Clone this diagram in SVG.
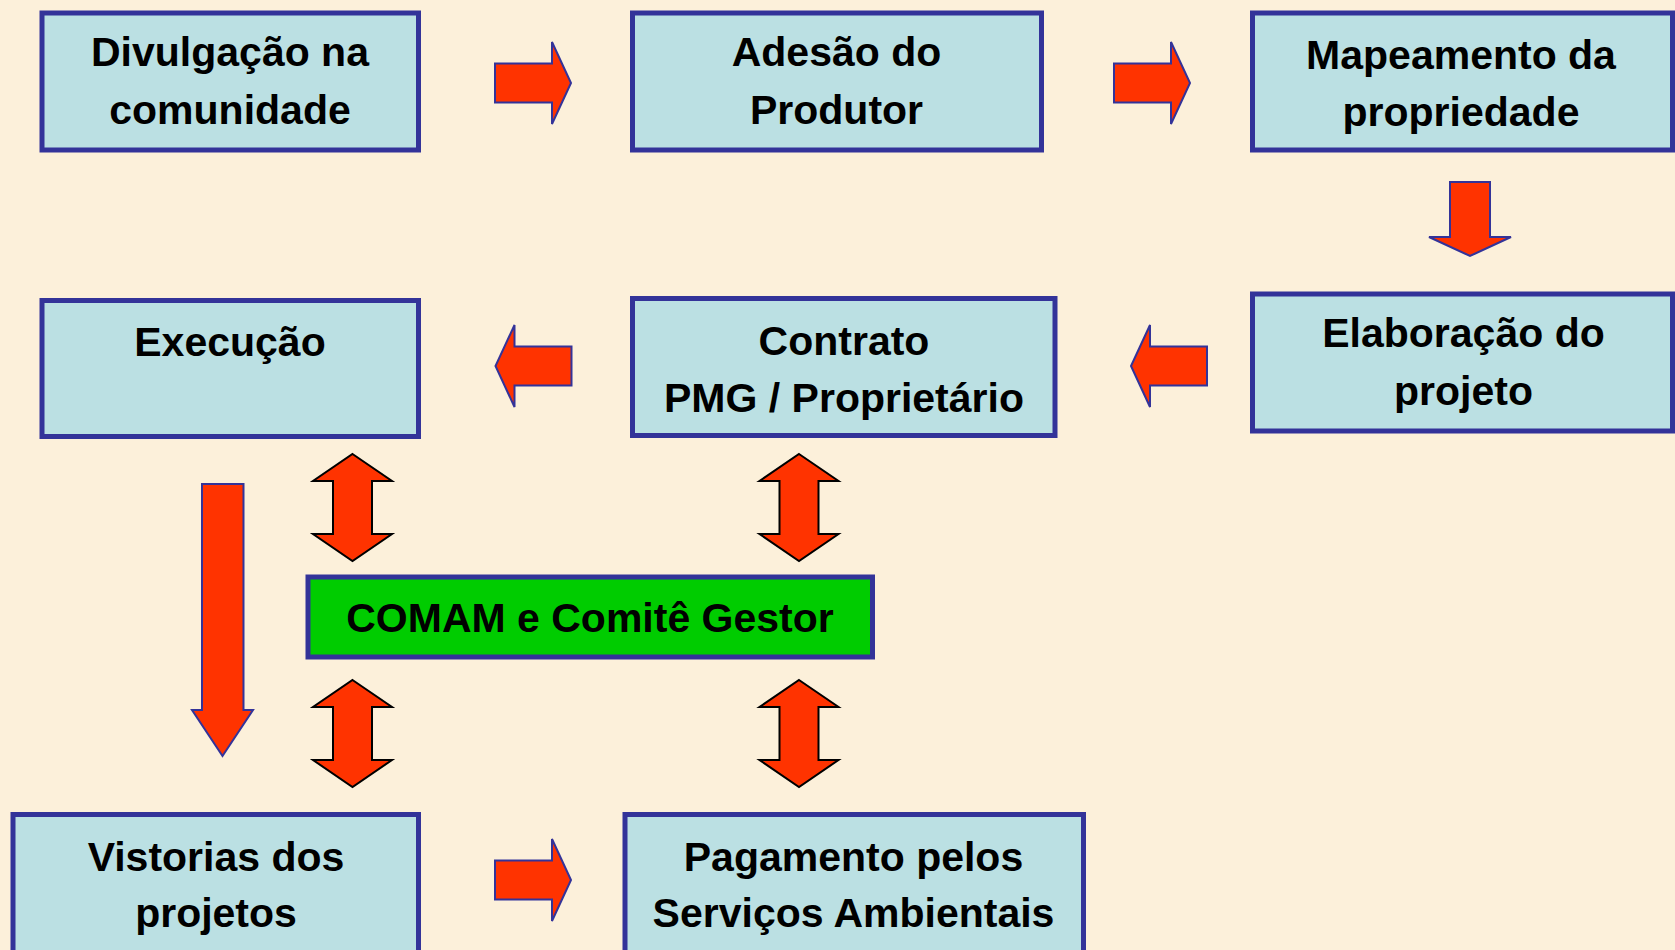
<svg xmlns="http://www.w3.org/2000/svg" width="1675" height="950" viewBox="0 0 1675 950">
<defs>
<style>
.box{fill:#BBE0E3;stroke:#333399;stroke-width:5}
.green{fill:#00CC00;stroke:#333399;stroke-width:5}
.t{font-family:"Liberation Sans",Arial,sans-serif;font-weight:bold;font-size:41px;fill:#000;text-anchor:middle}
.arr{fill:#FF3300;stroke:#333399;stroke-width:2;stroke-linejoin:miter}
.dbl{fill:#FF3300;stroke:#000;stroke-width:2;stroke-linejoin:miter}
</style>
<path id="right" d="M0,-19.5 H57 V-41 L76,0 L57,41 V19.5 H0 Z"/>
<path id="left" d="M0,-19.5 H-57 V-41 L-76,0 L-57,41 V19.5 H0 Z"/>
<path id="dbl" d="M0,0 L39.5,27 H19.5 V80 H39.5 L0,107 L-39.5,80 H-19.5 V27 H-39.5 Z"/>
</defs>
<rect width="1675" height="950" fill="#FCF0DA"/>

<g id="connectors">
<use href="#right" class="arr" x="495" y="83"/>
<use href="#right" class="arr" x="1114" y="83"/>
<path class="arr" d="M1450,182 H1490 V237 H1511 L1470,256 L1429,237 H1450 Z"/>
<use href="#left" class="arr" x="571.5" y="366"/>
<use href="#left" class="arr" x="1207" y="366"/>
<path class="arr" d="M202,484 H243.5 V710 H253 L222.5,756 L192,710 H202 Z"/>
<use href="#dbl" class="dbl" x="352.5" y="454"/>
<use href="#dbl" class="dbl" x="799" y="454"/>
<use href="#dbl" class="dbl" x="352.5" y="680"/>
<use href="#dbl" class="dbl" x="799" y="680"/>
<use href="#right" class="arr" x="495" y="880"/>
</g>

<g id="n-divulgacao">
<rect class="box" x="42" y="13" width="376.5" height="137"/>
<text class="t" x="230" y="66">Divulgação na</text>
<text class="t" x="230" y="124">comunidade</text>
</g>
<g id="n-adesao">
<rect class="box" x="632.5" y="13" width="409" height="137"/>
<text class="t" x="836.5" y="66">Adesão do</text>
<text class="t" x="836.5" y="124">Produtor</text>
</g>
<g id="n-mapeamento">
<rect class="box" x="1252.5" y="13" width="420" height="137"/>
<text class="t" x="1461" y="69">Mapeamento da</text>
<text class="t" x="1461" y="126">propriedade</text>
</g>
<g id="n-execucao">
<rect class="box" x="42" y="300.5" width="376.5" height="136"/>
<text class="t" x="230" y="356">Execução</text>
</g>
<g id="n-contrato">
<rect class="box" x="632.5" y="298.5" width="422.5" height="137"/>
<text class="t" x="844" y="355">Contrato</text>
<text class="t" x="844" y="412">PMG / Proprietário</text>
</g>
<g id="n-elaboracao">
<rect class="box" x="1252.5" y="294" width="420" height="137"/>
<text class="t" x="1463.5" y="347">Elaboração do</text>
<text class="t" x="1463.5" y="405">projeto</text>
</g>
<g id="n-comam">
<rect class="green" x="308" y="577" width="564.5" height="80"/>
<text class="t" x="590" y="632">COMAM e Comitê Gestor</text>
</g>
<g id="n-vistorias">
<rect class="box" x="13" y="814.5" width="405.5" height="200"/>
<text class="t" x="216" y="871">Vistorias dos</text>
<text class="t" x="216" y="927">projetos</text>
</g>
<g id="n-pagamento">
<rect class="box" x="625" y="814.5" width="458.5" height="200"/>
<text class="t" x="853.5" y="871">Pagamento pelos</text>
<text class="t" x="853.5" y="927">Serviços Ambientais</text>
</g>
</svg>
